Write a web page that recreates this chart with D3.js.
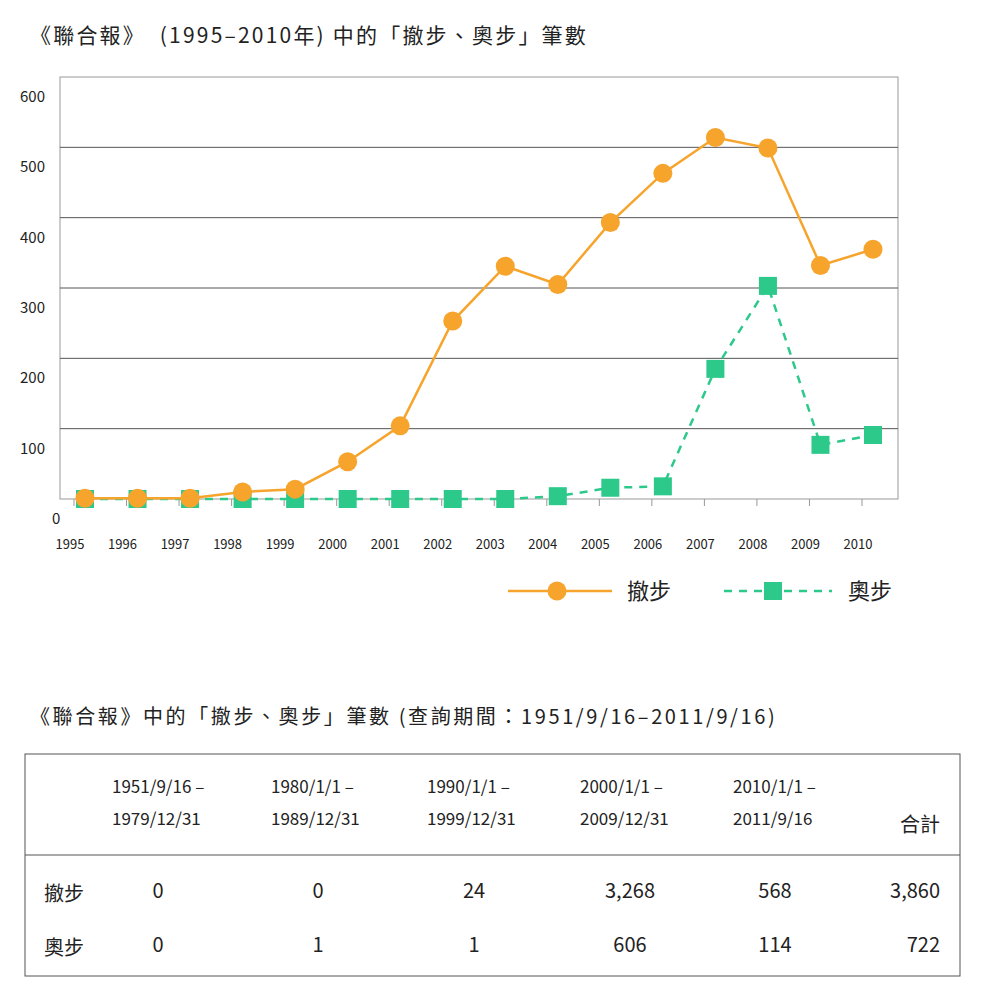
<!DOCTYPE html>
<html><head><meta charset="utf-8">
<script src="https://cdn.jsdelivr.net/npm/d3@7"></script>
<style>body{margin:0;background:#fff}text{font-family:"Noto Sans CJK TC","Noto Sans",sans-serif;fill:#222}</style>
</head><body>
<script>
// chart data
const years = [1995,1996,1997,1998,1999,2000,2001,2002,2003,2004,2005,2006,2007,2008,2009,2010];
const chebu = [1,1,1,10,14,53,104,253,331,305,393,463,514,499,332,355];
const aobu  = [0,0,0,0,0,0,0,0,0,4,16,18,185,303,77,91];
const yTicks = [0,100,200,300,400,500,600];
// table data
const periods = [["1951/9/16 –","1979/12/31"],["1980/1/1 –","1989/12/31"],["1990/1/1 –","1999/12/31"],["2000/1/1 –","2009/12/31"],["2010/1/1 –","2011/9/16"]];
const rowNames = ["撤步","奧步"];
const rowValues = [["0","0","24","3,268","568","3,860"],["0","1","1","606","114","722"]];

const orange = "#f6a42c", green = "#2cc98a";
const svg = d3.select("body").append("svg").attr("width",990).attr("height",997);

svg.append("text").attr("x",30).attr("y",43).attr("font-size",21).attr("letter-spacing",2.2)
  .attr("xml:space","preserve").text("《聯合報》  (1995–2010年) 中的「撤步、奧步」筆數");

const x = d3.scaleLinear().domain([1995,2010]).range([85,873]);
const y = d3.scaleLinear().domain([0,600]).range([499,77]);

// frame and gridlines
svg.append("rect").attr("x",60).attr("y",77).attr("width",838).attr("height",422)
  .attr("fill","none").attr("stroke","#999");
svg.selectAll(".grid").data(yTicks.slice(1,6)).join("line")
  .attr("x1",60).attr("x2",898).attr("y1",d=>y(d)).attr("y2",d=>y(d)).attr("stroke","#555");
svg.selectAll(".yl").data(yTicks).join("text")
  .attr("x",d=>d===0?52:20).attr("y",d=>y(d)+25).attr("font-size",15).text(d=>d);
svg.selectAll(".xt").data(years).join("line")
  .attr("x1",d=>x(d)-11).attr("x2",d=>x(d)-11).attr("y1",499).attr("y2",506).attr("stroke","#999");
svg.selectAll(".xl").data(years).join("text")
  .attr("x",d=>x(d)-15).attr("y",549).attr("text-anchor","middle").attr("font-size",13).text(d=>d);

const line = d3.line().x((d,i)=>x(years[i])).y(d=>y(d));
svg.append("path").attr("d",line(aobu)).attr("fill","none").attr("stroke",green)
  .attr("stroke-width",2.5).attr("stroke-dasharray","8,7");
svg.selectAll(".sq").data(aobu).join("rect")
  .attr("x",(d,i)=>x(years[i])-9).attr("y",d=>y(d)-9).attr("width",18).attr("height",18).attr("fill",green);
svg.append("path").attr("d",line(chebu)).attr("fill","none").attr("stroke",orange).attr("stroke-width",2.5);
svg.selectAll(".ci").data(chebu).join("circle")
  .attr("cx",(d,i)=>x(years[i])).attr("cy",d=>y(d)).attr("r",9.5).attr("fill",orange);

// legend
svg.append("line").attr("x1",508).attr("x2",612).attr("y1",591).attr("y2",591).attr("stroke",orange).attr("stroke-width",2.5);
svg.append("circle").attr("cx",557).attr("cy",591).attr("r",9.5).attr("fill",orange);
svg.append("text").attr("x",627).attr("y",599).attr("font-size",22).text("撤步");
svg.append("line").attr("x1",724).attr("x2",832).attr("y1",591).attr("y2",591).attr("stroke",green).attr("stroke-width",2.5).attr("stroke-dasharray","8,7");
svg.append("rect").attr("x",764).attr("y",582).attr("width",18).attr("height",18).attr("fill",green);
svg.append("text").attr("x",848).attr("y",599).attr("font-size",22).text("奧步");

// table
svg.append("text").attr("x",30).attr("y",724).attr("font-size",20).attr("letter-spacing",2.6)
  .text("《聯合報》中的「撤步、奧步」筆數 (查詢期間：1951/9/16–2011/9/16)");
svg.append("rect").attr("x",25).attr("y",754).attr("width",935).attr("height",222).attr("fill","none").attr("stroke","#555");
svg.append("line").attr("x1",25).attr("x2",960).attr("y1",855).attr("y2",855).attr("stroke","#555");
const colX = [158,318,474,630,775];
const headX = [112,271,427,580,733];
periods.forEach((p,i)=>p.forEach((t,j)=>svg.append("text").attr("x",headX[i]).attr("y",793+j*32).attr("font-size",17).text(t)));
svg.append("text").attr("x",940).attr("y",832).attr("text-anchor","end").attr("font-size",20).text("合計");
rowNames.forEach((n,r)=>{
  const yy = 898 + r*54;
  svg.append("text").attr("x",44).attr("y",yy+3).attr("font-size",20).text(n);
  rowValues[r].forEach((v,c)=>svg.append("text").attr("x",c<5?colX[c]:940).attr("y",yy)
    .attr("text-anchor",c<5?"middle":"end").attr("font-size",20).text(v));
});
</script>
</body></html>
